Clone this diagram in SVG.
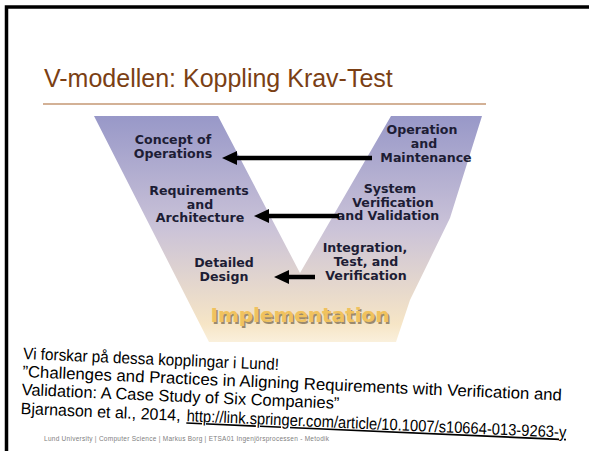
<svg xmlns="http://www.w3.org/2000/svg" width="589" height="451" viewBox="0 0 589 451">
  <defs>
    <linearGradient id="vFill" x1="0" y1="116" x2="0" y2="342" gradientUnits="userSpaceOnUse">
      <stop offset="0" stop-color="#9898c8"/>
      <stop offset="0.5" stop-color="#cbc3d8"/>
      <stop offset="0.92" stop-color="#f6e5c6"/>
      <stop offset="1" stop-color="#faf0dc"/>
    </linearGradient>
    <marker id="head" viewBox="0 -7 15 14" refX="3" refY="0" markerWidth="15" markerHeight="14" markerUnits="userSpaceOnUse" orient="auto">
      <path d="M0,-7 L15,0 L0,7 z" fill="#000"/>
    </marker>
    <style>
      .phase { font-family: "DejaVu Sans", Verdana, sans-serif; font-weight: bold; font-size: 12.6px; fill: #1d1d35; text-anchor: middle; }
      .link { stroke: #000; stroke-width: 4.5; fill: none; marker-end: url(#head); }
      .note { font-family: "Liberation Sans", Arial, sans-serif; font-size: 16.5px; fill: #000; }
      .impl { font-family: "DejaVu Sans", Verdana, sans-serif; font-weight: bold; font-size: 20px; text-anchor: middle; }
    </style>
  </defs>

  <rect width="589" height="451" fill="#fff"/>
  <!-- slide frame -->
  <path d="M6.5,451 V7 H589" fill="none" stroke="#000" stroke-width="3.5"/>

  <!-- title and rule -->
  <text x="44" y="87" font-family="Liberation Sans, Arial, sans-serif" font-size="25" fill="#7b3f14">V-modellen: Koppling Krav-Test</text>
  <line x1="43" y1="104" x2="486" y2="104" stroke="#a8652e" stroke-width="1.2"/>

  <!-- V shape -->
  <path d="M94,116 L218,116 L300,273 L391,116 L482,116 L450,218 L410,300 L396,342 L209,342 Z" fill="url(#vFill)"/>

  <!-- left arm phases -->
  <g id="concept">
    <text class="phase" x="173" y="144">Concept of</text>
    <text class="phase" x="173" y="158">Operations</text>
  </g>
  <g id="requirements">
    <text class="phase" x="199" y="195">Requirements</text>
    <text class="phase" x="200" y="208.5">and</text>
    <text class="phase" x="200" y="222">Architecture</text>
  </g>
  <g id="design">
    <text class="phase" x="224" y="267">Detailed</text>
    <text class="phase" x="224" y="280.5">Design</text>
  </g>

  <!-- right arm phases -->
  <g id="operation">
    <text class="phase" x="422" y="134">Operation</text>
    <text class="phase" x="424" y="148">and</text>
    <text class="phase" x="426" y="161.5">Maintenance</text>
  </g>
  <g id="system">
    <text class="phase" x="390" y="193">System</text>
    <text class="phase" x="393" y="206.5">Verification</text>
    <text class="phase" x="388" y="220">and Validation</text>
  </g>
  <g id="integration">
    <text class="phase" x="365" y="252">Integration,</text>
    <text class="phase" x="366" y="266">Test, and</text>
    <text class="phase" x="366" y="280">Verification</text>
  </g>

  <!-- bottom of the V -->
  <g id="implementation">
    <text class="impl" x="301.5" y="323.5" fill="#9a8a6e">Implementation</text>
    <text class="impl" x="300" y="322" fill="#f0c25e">Implementation</text>
  </g>

  <!-- test-to-requirement links -->
  <g id="connectors">
    <line class="link" x1="372" y1="158" x2="234" y2="158"/>
    <line class="link" x1="339" y1="216" x2="266" y2="216"/>
    <line class="link" x1="315" y1="277" x2="286" y2="277"/>
  </g>

  <!-- reference note -->
  <g transform="rotate(2.5 23 358)">
    <text class="note" x="23" y="359" textLength="256" lengthAdjust="spacingAndGlyphs">Vi forskar på dessa kopplingar i Lund!</text>
    <text class="note" x="23" y="377" textLength="540" lengthAdjust="spacingAndGlyphs">”Challenges and Practices in Aligning Requirements with Verification and</text>
    <text class="note" x="23" y="395" textLength="318" lengthAdjust="spacingAndGlyphs">Validation: A Case Study of Six Companies”</text>
    <text class="note" x="23" y="414" textLength="160" lengthAdjust="spacingAndGlyphs">Bjarnason et al., 2014,</text>
    <text class="note" x="189" y="414" textLength="380" lengthAdjust="spacingAndGlyphs" fill="#0000ee" text-decoration="underline">http://link.springer.com/article/10.1007/s10664-013-9263-y</text>
  </g>

  <!-- footer -->
  <text x="44" y="441" font-family="Liberation Sans, Arial, sans-serif" font-size="6.5" fill="#808080" textLength="285">Lund University | Computer Science | Markus Borg | ETSA01 Ingenjörsprocessen - Metodik</text>
</svg>
